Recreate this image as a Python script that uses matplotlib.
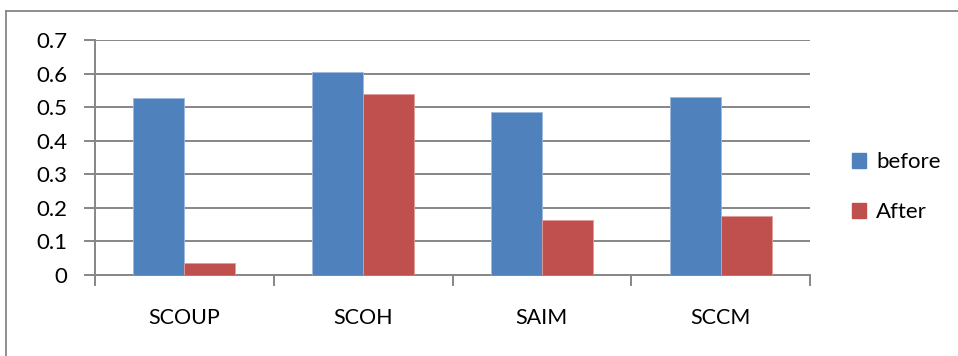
import matplotlib
matplotlib.use("Agg")
import matplotlib.pyplot as plt
import numpy as np
from matplotlib.lines import Line2D

categories = ["SCOUP", "SCOH", "SAIM", "SCCM"]
before = [0.528, 0.604, 0.485, 0.530]
after = [0.035, 0.540, 0.163, 0.175]
yticks = [0, 0.1, 0.2, 0.3, 0.4, 0.5, 0.6, 0.7]
ytick_labels = ["0", "0.1", "0.2", "0.3", "0.4", "0.5", "0.6", "0.7"]

plt.rcParams["font.family"] = ["Lato", "DejaVu Sans"]

W, H = 958, 356
fig = plt.figure(figsize=(W / 100, H / 100), dpi=100)
ax = fig.add_axes([95 / W, 1 - 275 / H, (810 - 95) / W, (275 - 40) / H])

grid_c = "#868686"
blue = "#4F81BD"
red = "#C0504D"

x = np.arange(len(categories))
bw = 0.285
ax.bar(x - bw / 2, before, bw, color=blue, edgecolor="#9DB9DD", linewidth=0.6,
       label="before", zorder=3)
ax.bar(x + bw / 2, after, bw, color=red, edgecolor="#E09C9A", linewidth=0.6,
       label="After", zorder=3)

ax.set_xlim(-0.5, len(categories) - 0.5)
ax.set_ylim(0, 0.7)
ax.set_yticks(yticks)
ax.set_yticklabels(ytick_labels)
ax.yaxis.grid(True, color=grid_c, linewidth=1.4, zorder=0)
ax.set_axisbelow(True)

# Category boundaries carry the x tick marks; labels sit at centres.
ax.set_xticks(np.arange(len(categories) + 1) - 0.5)
ax.set_xticklabels([])
ax.set_xticks(x, minor=True)
ax.set_xticklabels(categories, minor=True)
ax.tick_params(axis="x", which="major", direction="out", length=8, width=1.4,
               color=grid_c)
ax.tick_params(axis="x", which="minor", length=0, pad=24, labelsize=15.5)
ax.tick_params(axis="y", direction="out", length=8, width=1.4, color=grid_c,
               labelsize=16, pad=12)

for side in ["top", "right"]:
    ax.spines[side].set_visible(False)
for side in ["left", "bottom"]:
    ax.spines[side].set_color(grid_c)
    ax.spines[side].set_linewidth(1.4)

handles = [plt.Rectangle((0, 0), 1, 1, color=blue),
           plt.Rectangle((0, 0), 1, 1, color=red)]
fig.legend(handles, ["before", "After"], loc="upper left",
           bbox_to_anchor=(843 / W, 1 - 143 / H), frameon=False,
           fontsize=16, handlelength=0.65, handleheight=0.65,
           handletextpad=0.45, labelspacing=1.35, borderaxespad=0)

# Outer chart frame (left and top edges visible)
fig.add_artist(Line2D([6 / W, 6 / W], [0, 1 - 11 / H], transform=fig.transFigure,
                      color=grid_c, linewidth=1.3))
fig.add_artist(Line2D([6 / W, 1], [1 - 11 / H, 1 - 11 / H], transform=fig.transFigure,
                      color=grid_c, linewidth=1.3))

fig.savefig("out.png", dpi=100)
